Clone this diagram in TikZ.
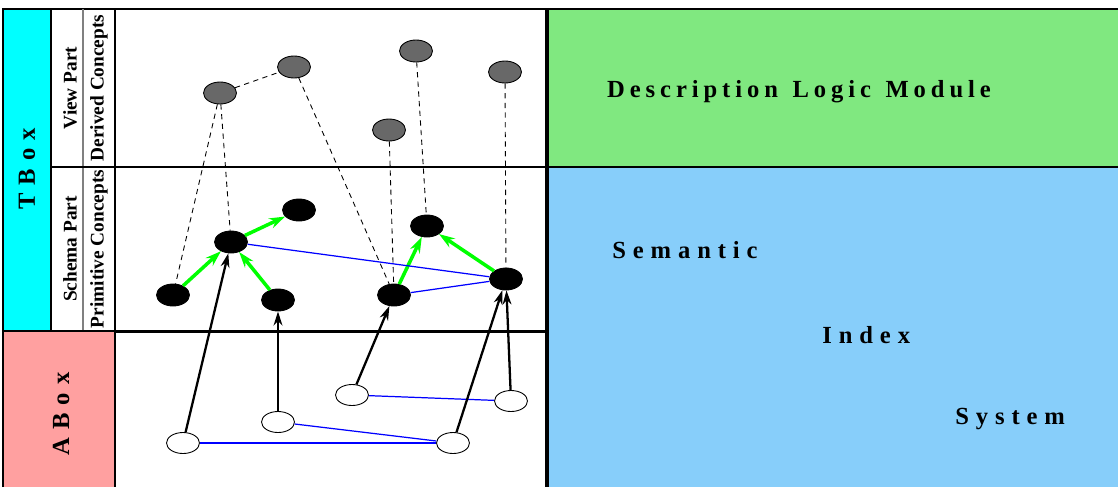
\documentclass[tikz,border=0pt]{standalone}
\usepackage{fontspec}
\setmainfont{Liberation Serif}
\usepackage{tikz}
\usetikzlibrary{shapes.geometric,arrows.meta}

\definecolor{tboxcyan}{HTML}{00FFFF}
\definecolor{aboxpink}{HTML}{FFA0A0}
\definecolor{dlmgreen}{HTML}{80E880}
\definecolor{sisblue}{HTML}{87CEFA}
\definecolor{dconcgray}{HTML}{686868}

\begin{document}
\begin{tikzpicture}[x=0.02cm, y=-0.02cm,
    lbl/.style={font=\fontsize{11}{13}\selectfont\bfseries, rotate=90, inner sep=0pt},
    boxlbl/.style={font=\fontsize{14}{16}\selectfont\bfseries\addfontfeature{LetterSpace=33}, rotate=90, inner sep=0pt},
    modlbl/.style={font=\fontsize{14}{16}\selectfont\bfseries\addfontfeature{LetterSpace=20}, inner sep=0pt},
    sislbl/.style={font=\fontsize{14}{16}\selectfont\bfseries\addfontfeature{LetterSpace=28}, inner sep=0pt, anchor=west},
    conc/.style={ellipse, draw, line width=0.5pt, minimum width=0.66cm, minimum height=0.44cm, inner sep=0pt},
    dconc/.style={conc, fill=dconcgray},
    pconc/.style={conc, fill=black},
    indiv/.style={conc, fill=white, minimum height=0.42cm},
    view/.style={line width=0.5pt, dash pattern=on 3pt off 2.5pt},
    isa/.style={green, line width=2pt, -{Stealth[length=9pt, width=6pt, inset=3pt]}},
    inst/.style={line width=1.3pt, -{Stealth[length=8pt, width=5pt, inset=2.5pt]}},
    rel/.style={blue, line width=0.7pt}]
  \useasboundingbox (0,0) rectangle (1118,487);

  %----- background panels -----
  \fill[tboxcyan] (3,9) rectangle (51,331);
  \fill[aboxpink] (3,331) rectangle (115,487);
  \fill[dlmgreen] (547,9) rectangle (1118,167);
  \fill[sisblue]  (547,167) rectangle (1118,487);

  %----- frame and separators -----
  \draw[line width=1.2pt] (3,487) -- (3,9) -- (1118,9);
  \draw[line width=1pt] (115,9) -- (115,487);
  \draw[line width=0.6pt] (51,9) -- (51,331);
  \draw[line width=0.6pt, gray] (83,9) -- (83,331);
  \draw[line width=0.6pt] (51,167) -- (115,167);
  \draw[line width=0.6pt] (3,331) -- (115,331);
  \draw[line width=1.7pt] (115,167) -- (1118,167);
  \draw[line width=1.7pt] (115,331) -- (547,331);
  \draw[line width=2.2pt] (547,9) -- (547,487);

  %----- left labels -----
  \node[boxlbl] (tbox) at (27,169) {TBox};
  \node[boxlbl] (abox) at (61,414) {ABox};
  \node[lbl] (viewp) at (70,88) {View Part};
  \node[lbl] (derc) at (99,88) {Derived Concepts};
  \node[lbl] (schp) at (70,249) {Schema Part};
  \node[lbl] (primc) at (99,249) {Primitive Concepts};

  %----- right modules -----
  \node[modlbl] (dlm) at (799,92) {Description\hspace{2pt} Logic\hspace{2pt} Module};
  \node[sislbl] (sem) at (612,250) {Semantic};
  \node[sislbl] (idx) at (822,335) {Index};
  \node[sislbl] (sys) at (955,419) {System};

  %----- derived concepts (view part) -----
  \node[dconc] (d1) at (220,93)  {};
  \node[dconc] (d2) at (294,67)  {};
  \node[dconc] (d3) at (416,51)  {};
  \node[dconc] (d4) at (505,72)  {};
  \node[dconc] (d5) at (389,130) {};

  %----- primitive concepts (schema part) -----
  \node[pconc] (p1) at (173,295) {};
  \node[pconc] (p2) at (231,242) {};
  \node[pconc] (p3) at (299,210) {};
  \node[pconc] (p4) at (278,300) {};
  \node[pconc] (p5) at (394,295) {};
  \node[pconc] (p6) at (427,226) {};
  \node[pconc] (p7) at (506,279) {};

  %----- individuals (abox) -----
  \node[indiv] (i1) at (183,443) {};
  \node[indiv] (i2) at (278,422) {};
  \node[indiv] (i3) at (352,395) {};
  \node[indiv] (i4) at (453,443) {};
  \node[indiv] (i5) at (511,401) {};

  %----- view definitions -----
  \draw[view] (d1) -- (d2);
  \draw[view] (d1) -- (p1);
  \draw[view] (d1) -- (p2);
  \draw[view] (d2) -- (p5);
  \draw[view] (d5) -- (p5);
  \draw[view] (d3) -- (p6);
  \draw[view] (d4) -- (p7);

  %----- is-a links -----
  \draw[isa] (p1) -- (p2);
  \draw[isa] (p2) -- (p3);
  \draw[isa] (p4) -- (p2);
  \draw[isa] (p5) -- (p6);
  \draw[isa] (p7) -- (p6);

  %----- roles -----
  \draw[rel] (p2) -- (p7);
  \draw[rel] (p5) -- (p7);
  \draw[rel] (i1) -- (i4);
  \draw[rel] (i2) -- (i4);
  \draw[rel] (i3) -- (i5);

  %----- instance-of -----
  \draw[inst] (i1) -- (p2);
  \draw[inst] (i2) -- (p4);
  \draw[inst] (i3) -- (p5);
  \draw[inst] (i4) -- (p7);
  \draw[inst] (i5) -- (p7);
\end{tikzpicture}
\end{document}
